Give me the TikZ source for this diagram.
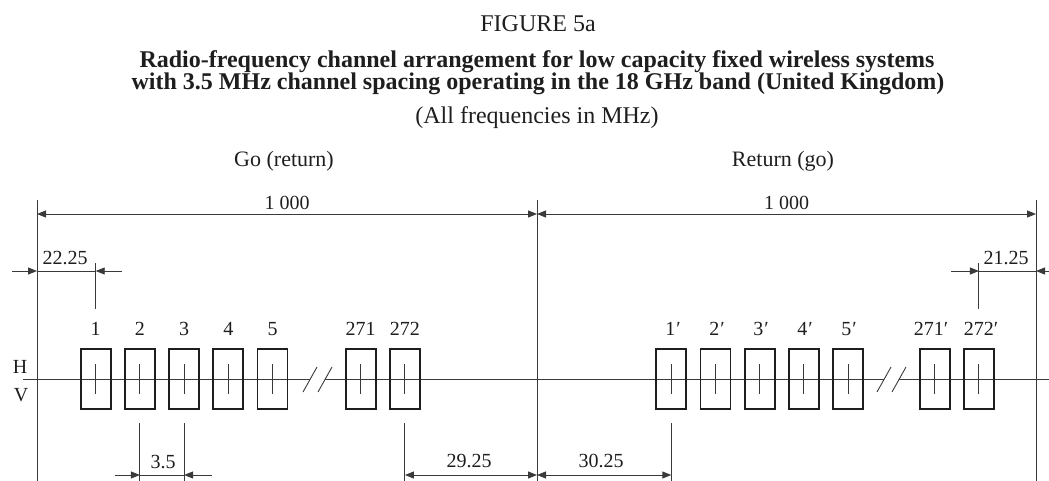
\documentclass[tikz,border=0pt]{standalone}
\usepackage{fontspec}
\setmainfont{Liberation Serif}
\usepackage{xcolor}
\usepackage{tikz}
\usetikzlibrary{arrows.meta}
\definecolor{ink}{HTML}{1E1E1E}
\definecolor{rule}{HTML}{3A3A3A}

\begin{document}
\begin{tikzpicture}[x=1pt,y=-1pt,
  txt/.style={anchor=base,inner sep=0pt,text=ink,font=\fontsize{20}{24}\selectfont},
  head/.style={txt,font=\fontsize{24}{28}\selectfont},
  chan/.style={draw=ink,line width=1.8pt,minimum width=30pt,minimum height=60pt,inner sep=0pt,
    path picture={\draw[rule,line width=0.9pt] (path picture bounding box.center) +(0,-15) -- +(0,15);}},
  ln/.style={draw=rule,line width=0.9pt},
  tip/.style={ln,-{Triangle[length=9pt,width=7pt]}},
  dim/.style={ln,{Triangle[length=9pt,width=7pt]}-{Triangle[length=9pt,width=7pt]}}]
\useasboundingbox (0,0) rectangle (1049,481);
% headings
\node[head] (fig) at (538,32) {FIGURE 5a};
\node[head,font=\bfseries\fontsize{24}{28}\selectfont] (t1) at (537,68) {Radio-frequency channel arrangement for low capacity fixed wireless systems};
\node[head,font=\bfseries\fontsize{24}{28}\selectfont] (t2) at (538,90) {with 3.5 MHz channel spacing operating in the 18 GHz band (United Kingdom)};
\node[head] (t3) at (537,124) {(All frequencies in MHz)};
\node[txt,font=\fontsize{22}{26}\selectfont] (go) at (284,167) {Go (return)};
\node[txt,font=\fontsize{22}{26}\selectfont] (ret) at (783,167) {Return (go)};
% band edges
\coordinate (e1t) at (37,200);   \coordinate (e1b) at (37,481);
\coordinate (e2t) at (537,200);  \coordinate (e2b) at (537,481);
\coordinate (e3t) at (1036,200); \coordinate (e3b) at (1036,481);
\draw[ln] (e1t) -- (e1b);
\draw[ln] (e2t) -- (e2b);
\draw[ln] (e3t) -- (e3b);
\draw[dim] (37,214) coordinate (w1) -- node[txt,above=5pt,anchor=base] (k1) {1 000} (537,214) coordinate (w2);
\draw[dim] (w2) -- node[txt,above=5pt,anchor=base] (k2) {1 000} (1036,214) coordinate (w3);
% H/V axis
\node[txt] (h) at (20,373) {H};
\node[txt] (v) at (21,401) {V};
\coordinate (a0) at (23,379);   \coordinate (a1) at (310,379);
\coordinate (a2) at (325,379);  \coordinate (a3) at (883.5,379);
\coordinate (a4) at (898.5,379); \coordinate (a5) at (1049,379);
\draw[ln] (a0) -- (a1);
\draw[ln] (a2) -- (a3);
\draw[ln] (a4) -- (a5);
\draw[ln] (303,392) -- (317,367);
\draw[ln] (318,392) -- (332,367);
\draw[ln] (877,392) -- (891,367);
\draw[ln] (892,392) -- (906,367);
% go channels
\node[chan] (c1) at (95.7,379) {};   \node[txt] (n1) at (95.7,335) {1};
\node[chan] (c2) at (139.9,379) {};  \node[txt] (n2) at (139.9,335) {2};
\node[chan] (c3) at (184.1,379) {};  \node[txt] (n3) at (184.1,335) {3};
\node[chan] (c4) at (228.3,379) {};  \node[txt] (n4) at (228.3,335) {4};
\node[chan] (c5) at (272.5,379) {};  \node[txt] (n5) at (272.5,335) {5};
\node[chan] (c271) at (360.7,379) {}; \node[txt] (n271) at (360.7,335) {271};
\node[chan] (c272) at (404.9,379) {}; \node[txt] (n272) at (404.9,335) {272};
% return channels
\node[chan] (d1) at (671.3,379) {};  \node[txt] (m1) at (673,335) {1\kern1pt′};
\node[chan] (d2) at (715.5,379) {};  \node[txt] (m2) at (717,335) {2\kern1pt′};
\node[chan] (d3) at (759.7,379) {};  \node[txt] (m3) at (761,335) {3\kern1pt′};
\node[chan] (d4) at (803.9,379) {};  \node[txt] (m4) at (805,335) {4\kern1pt′};
\node[chan] (d5) at (848.1,379) {};  \node[txt] (m5) at (849,335) {5\kern1pt′};
\node[chan] (d271) at (934.7,379) {}; \node[txt] (m271) at (931,335) {271′};
\node[chan] (d272) at (978.9,379) {}; \node[txt] (m272) at (981,335) {272′};
% guard bands, top
\coordinate (g1t) at (95.7,263);  \coordinate (g1b) at (95.7,309);
\coordinate (g2t) at (978.9,263); \coordinate (g2b) at (978.9,309);
\draw[ln] (g1t) -- (g1b);
\draw[ln] (g2t) -- (g2b);
\draw[tip] (12,271) coordinate (p0) -- (37,271) coordinate (p1);
\draw[ln] (p1) -- (95.7,271) coordinate (p2);
\draw[tip] (122,271) coordinate (p3) -- (p2);
\node[txt] (l1) at (65,264) {22.25};
\draw[tip] (951,271) coordinate (q0) -- (978.9,271) coordinate (q1);
\draw[ln] (q1) -- (1036,271) coordinate (q2);
\draw[tip] (1049,271) coordinate (q3) -- (q2);
\node[txt] (l2) at (1006,264) {21.25};
% spacings, bottom
\coordinate (s1) at (139.9,423); \coordinate (s2) at (184.1,423);
\coordinate (s3) at (404.9,423); \coordinate (s4) at (671.3,423);
\draw[ln] (s1) -- (139.9,481);
\draw[ln] (s2) -- (184.1,481);
\draw[ln] (s3) -- (404.9,481);
\draw[ln] (s4) -- (671.3,481);
\draw[tip] (115,475) coordinate (r0) -- (139.9,475) coordinate (r1);
\draw[ln] (r1) -- (184.1,475) coordinate (r2);
\draw[tip] (212,475) coordinate (r3) -- (r2);
\node[txt] (l3) at (163,468) {3.5};
\draw[dim] (404.9,475) coordinate (u0) -- (537,475) coordinate (u1);
\draw[dim] (u1) -- (671.3,475) coordinate (u2);
\node[txt] (l4) at (469,467) {29.25};
\node[txt] (l5) at (601,467) {30.25};
\end{tikzpicture}
\end{document}
